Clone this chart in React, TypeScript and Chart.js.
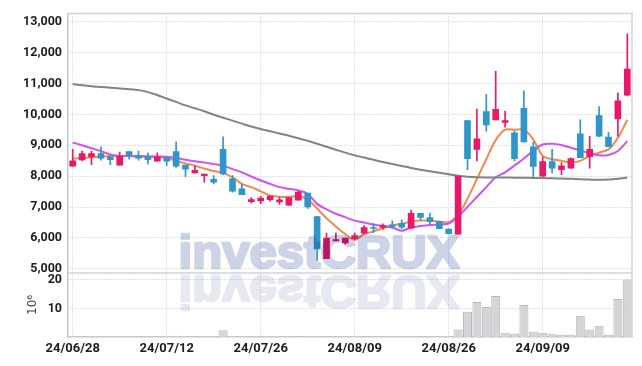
import React, { useEffect, useRef } from 'react';
import { Chart, registerables } from 'chart.js';
Chart.register(...registerables);

const dates = [
  '24/06/28', '24/07/01', '24/07/02', '24/07/03', '24/07/04', '24/07/05', '24/07/08', '24/07/09', '24/07/10', '24/07/11',
  '24/07/12', '24/07/15', '24/07/16', '24/07/17', '24/07/18', '24/07/19', '24/07/22', '24/07/23', '24/07/24', '24/07/25',
  '24/07/26', '24/07/29', '24/07/30', '24/07/31', '24/08/01', '24/08/02', '24/08/05', '24/08/06', '24/08/07', '24/08/08',
  '24/08/09', '24/08/12', '24/08/13', '24/08/14', '24/08/16', '24/08/19', '24/08/20', '24/08/21', '24/08/22', '24/08/23',
  '24/08/26', '24/08/27', '24/08/28', '24/08/29', '24/08/30', '24/09/02', '24/09/03', '24/09/04', '24/09/05', '24/09/06',
  '24/09/09', '24/09/10', '24/09/11', '24/09/12', '24/09/13', '24/09/19', '24/09/20', '24/09/23', '24/09/24', '24/09/25',
];

const opens = [
  8324, 8529, 8634, 8729, 8624, 8357, 8793, 8666, 8624, 8484,
  8602, 8793, 8357, 8102, 8019, 7901, 8867, 7911, 7592, 7177,
  7200, 7241, 7168, 7063, 7222, 7455, 6690, 5329, 5903, 5839,
  5979, 6158, 6339, 6339, 6425, 6476, 6317, 6795, 6658, 6531,
  6285, 6126, 9803, 8867, 10090, 9823, 9740, 9399, 10196, 8953,
  7997, 8475, 8210, 8261, 9367, 8634, 9963, 9262, 9854, 10619,
];
const closes = [
  8496, 8729, 8729, 8580, 8538, 8643, 8698, 8580, 8538, 8624,
  8484, 8324, 8229, 8188, 8070, 7805, 8070, 7518, 7400, 7241,
  7295, 7359, 7232, 7305, 7486, 7008, 5648, 5998, 5947, 5998,
  6075, 6339, 6307, 6403, 6371, 6349, 6795, 6667, 6531, 6298,
  6139, 7997, 8570, 9207, 9663, 10164, 9803, 8570, 9112, 8315,
  8475, 8261, 8338, 8570, 8602, 8867, 9293, 8953, 10441, 11470,
];
const highs = [
  8866, 8815, 8815, 8953, 8640, 8784, 8793, 8815, 8752, 8752,
  8602, 9112, 8357, 8330, 8070, 8019, 9271, 8019, 7751, 7305,
  7349, 7359, 7318, 7305, 7510, 7455, 6700, 6158, 6158, 5998,
  6158, 6403, 6457, 6457, 6553, 6585, 6903, 6795, 6795, 6531,
  6300, 8000, 9803, 10173, 10651, 11397, 10109, 9453, 10760, 9100,
  8624, 8867, 8443, 8590, 9823, 9293, 10250, 9421, 10696, 12608,
];
const lows = [
  8320, 8497, 8369, 8516, 8369, 8357, 8548, 8516, 8389, 8484,
  8338, 8283, 7987, 8100, 7805, 7751, 8050, 7486, 7400, 7126,
  7114, 7190, 7082, 7063, 7222, 6954, 5256, 5329, 5903, 5788,
  5925, 6126, 6180, 6285, 6317, 6298, 6298, 6585, 6457, 6290,
  6120, 6120, 8210, 8497, 9453, 9823, 9590, 8497, 9100, 7965,
  7997, 8102, 8051, 8261, 8600, 8261, 9280, 8953, 9293, 10600,
];
// volume in millions of shares
const volumes = [
  0.02, 0.02, 0.02, 0.02, 0.02, 0.02, 0.02, 0.02, 0.02, 0.02,
  0.3, 0.4, 0.02, 0.02, 0.02, 0.02, 2.4, 0.3, 0.02, 0.02,
  0.02, 0.02, 0.02, 0.2, 0.2, 0.02, 0.3, 0.3, 0.02, 0.02,
  0.02, 0.02, 0.02, 0.02, 0.02, 0.02, 0.02, 0.02, 0.02, 0.02,
  0.02, 2.6, 8.8, 12.2, 10.5, 14.3, 1.5, 1.2, 11.2, 1.9,
  1.5, 1.2, 0.8, 0.8, 7.4, 2.6, 3.9, 0.8, 13.3, 20.1,
];
const ma5 = [
  8570, 8585, 8615, 8630, 8650, 8650, 8650, 8640, 8630, 8620,
  8590, 8500, 8410, 8340, 8250, 8165, 8100, 7965, 7750, 7645,
  7510, 7380, 7337, 7327, 7360, 7240, 6955, 6636, 6371, 6126,
  5947, 6126, 6212, 6317, 6403, 6457, 6531, 6562, 6562, 6531,
  6510, 6744, 7273, 7910, 8548, 9166, 9504, 9504, 9504, 9185,
  8656, 8548, 8497, 8443, 8497, 8656, 8761, 8867, 9240, 9823,
];
const ma20 = [
  9090, 9000, 8905, 8810, 8700, 8656, 8650, 8645, 8640, 8635,
  8630, 8585, 8530, 8480, 8440, 8390, 8338, 8230, 8124, 7990,
  7859, 7750, 7646, 7590, 7540, 7432, 7104, 6929, 6785, 6674,
  6562, 6498, 6435, 6387, 6339, 6234, 6339, 6387, 6419, 6435,
  6467, 6690, 7008, 7327, 7646, 7965, 8124, 8347, 8570, 8830,
  9026, 9048, 9007, 8920, 8835, 8740, 8675, 8688, 8815, 9134,
];
const ma120 = [
  10982, 10944, 10912, 10887, 10865, 10840, 10817, 10785, 10721, 10626,
  10514, 10403, 10291, 10196, 10100, 9988, 9893, 9797, 9701, 9606,
  9526, 9453, 9383, 9310, 9230, 9144, 9048, 8953, 8857, 8761,
  8675, 8602, 8529, 8459, 8395, 8331, 8267, 8210, 8156, 8108,
  8060, 8012, 7980, 7965, 7960, 7958, 7955, 7952, 7950, 7945,
  7940, 7932, 7925, 7915, 7900, 7890, 7882, 7890, 7915, 7955,
];

const priceTicks = [5000, 6000, 7000, 8000, 9000, 10000, 11000, 12000, 13000];
const volumeTicks = [10, 20];

const RED = '#e8196a';
const BLUE = '#2e96c8';
const GRID = '#c3c6d4';
const FONT = "Roboto, 'Liberation Sans', sans-serif";

const framePlugin = {
  id: 'frame',
  afterDatasetsDraw(chart: any) {
    const { ctx } = chart;
    const text = 'investCRUX';
    const off = document.createElement('canvas');
    off.width = chart.width;
    off.height = chart.height;
    const o = off.getContext('2d')!;
    o.font = `bold 47px 'Liberation Sans', Arial, sans-serif`;
    const tw = o.measureText(text).width;
    const targetW = 281;
    const sx = targetW / tw;
    const left = chart.width / 2 - targetW / 2 - 2;
    const base = 268;
    o.lineJoin = 'round';
    o.lineWidth = 2.5;
    o.textBaseline = 'alphabetic';
    const paint = (color: string, y: number, flip: number) => {
      o.save();
      o.translate(left, y);
      o.scale(sx, flip);
      o.fillStyle = color;
      o.strokeStyle = color;
      o.fillText(text, 0, 0);
      o.strokeText(text, 0, 0);
      o.restore();
    };
    paint('rgb(205,212,232)', base, 1);
    paint('rgb(231,233,242)', base + 8, -1);
    ctx.save();
    ctx.globalCompositeOperation = 'multiply';
    ctx.drawImage(off, 0, 0);
    ctx.restore();
  },
  afterDraw(chart: any) {
    const { ctx, chartArea } = chart;
    const yPrice = chart.scales.y;
    ctx.save();
    ctx.strokeStyle = '#d2d3da';
    ctx.lineWidth = 1.5;
    ctx.beginPath();
    ctx.moveTo(chartArea.left, chartArea.top);
    ctx.lineTo(chartArea.right, chartArea.top);
    ctx.lineTo(chartArea.right, chartArea.bottom);
    ctx.moveTo(chartArea.left, yPrice.bottom);
    ctx.lineTo(chartArea.right, yPrice.bottom);
    ctx.stroke();
    ctx.restore();
  },
};

export default function App() {
  const ref = useRef<HTMLCanvasElement>(null);
  useEffect(() => {
    document.body.style.margin = '0';
    const canvas = ref.current!;
    const colors = closes.map((c, i) => (c >= opens[i] ? RED : BLUE));
    const chart = new Chart(canvas, {
      type: 'bar',
      data: {
        labels: dates,
        datasets: [
          {
            type: 'line', label: 'MA120', data: ma120, borderColor: '#838383', borderWidth: 2,
            pointRadius: 0, tension: 0.3, yAxisID: 'y', order: 2,
          } as any,
          {
            type: 'line', label: 'MA20', data: ma20, borderColor: '#cc55ee', borderWidth: 2,
            pointRadius: 0, tension: 0.3, yAxisID: 'y', order: 2,
          },
          {
            type: 'line', label: 'MA5', data: ma5, borderColor: '#f08a4e', borderWidth: 2,
            pointRadius: 0, tension: 0.3, yAxisID: 'y', order: 2,
          },
          {
            label: 'wick', data: lows.map((l, i) => [l, highs[i]]), backgroundColor: colors,
            barThickness: 1, grouped: false, yAxisID: 'y', order: 1,
          },
          {
            label: 'body',
            data: opens.map((o, i) => [Math.min(o, closes[i]), Math.max(o, closes[i])]),
            backgroundColor: colors, barThickness: 6, grouped: false, yAxisID: 'y', order: 0,
          },
          {
            label: 'volume', data: volumes, backgroundColor: '#d5d5d7', borderColor: '#b8b8bc',
            borderWidth: 1, barPercentage: 1, categoryPercentage: 0.96, grouped: false,
            yAxisID: 'yv', order: 3,
          },
        ],
      },
      options: {
        responsive: false,
        animation: false,
        events: [],
        layout: { padding: { left: 0, right: 10, top: 9, bottom: 0 } },
        plugins: { legend: { display: false }, tooltip: { enabled: false } },
        scales: {
          x: {
            type: 'category',
            offset: true,
            grid: { offset: false, color: GRID, lineWidth: 1, drawTicks: false },
            border: { display: true, color: '#c6c7d0', width: 1.5, dash: [1, 2] },
            ticks: {
              autoSkip: false, maxRotation: 0, padding: 4, color: '#1e1e1e',
              font: { family: FONT, size: 13, weight: 'bold' },
              callback: (v: any) => dates[v as number],
            },
            afterBuildTicks: (s: any) => {
              s.ticks = s.ticks.filter((t: any) => t.value % 10 === 0);
            },
            afterFit: (s: any) => { s.height = 29; },
          },
          yv: {
            position: 'left', stack: 'panes', stackWeight: 65,
            min: 0, max: 22.4,
            afterBuildTicks: (s: any) => { s.ticks = volumeTicks.map((v) => ({ value: v })); },
            grid: { color: GRID, lineWidth: 1, drawTicks: false },
            border: { display: true, color: '#c6c7d0', width: 1.5, dash: [1, 2] },
            ticks: {
              autoSkip: false, padding: 6, color: '#1e1e1e',
              font: { family: FONT, size: 12.5, weight: 'bold' },
            },
            title: {
              display: true, text: '10⁶', color: '#444',
              font: { family: "'DejaVu Sans', sans-serif", size: 12 },
              padding: { top: 26, bottom: 0 },
            },
            afterFit: (s: any) => { s.width = 68; },
          },
          y: {
            position: 'left', stack: 'panes', stackWeight: 263,
            min: 4870, max: 13265,
            afterBuildTicks: (s: any) => { s.ticks = priceTicks.map((v) => ({ value: v })); },
            grid: { color: GRID, lineWidth: 1, drawTicks: false },
            border: { display: true, color: '#c6c7d0', width: 1.5, dash: [1, 2] },
            ticks: {
              autoSkip: false, padding: 6, color: '#1e1e1e',
              font: { family: FONT, size: 12.5, weight: 'bold' },
              callback: (v: any) => Number(v).toLocaleString('en-US'),
            },
            afterFit: (s: any) => { s.width = 68; },
          },
        },
      } as any,
      plugins: [framePlugin],
    });
    return () => chart.destroy();
  }, []);
  return (
    <div style={{ width: 642, height: 366 }}>
      <canvas ref={ref} width={642} height={366} style={{ display: 'block' }} />
    </div>
  );
}
